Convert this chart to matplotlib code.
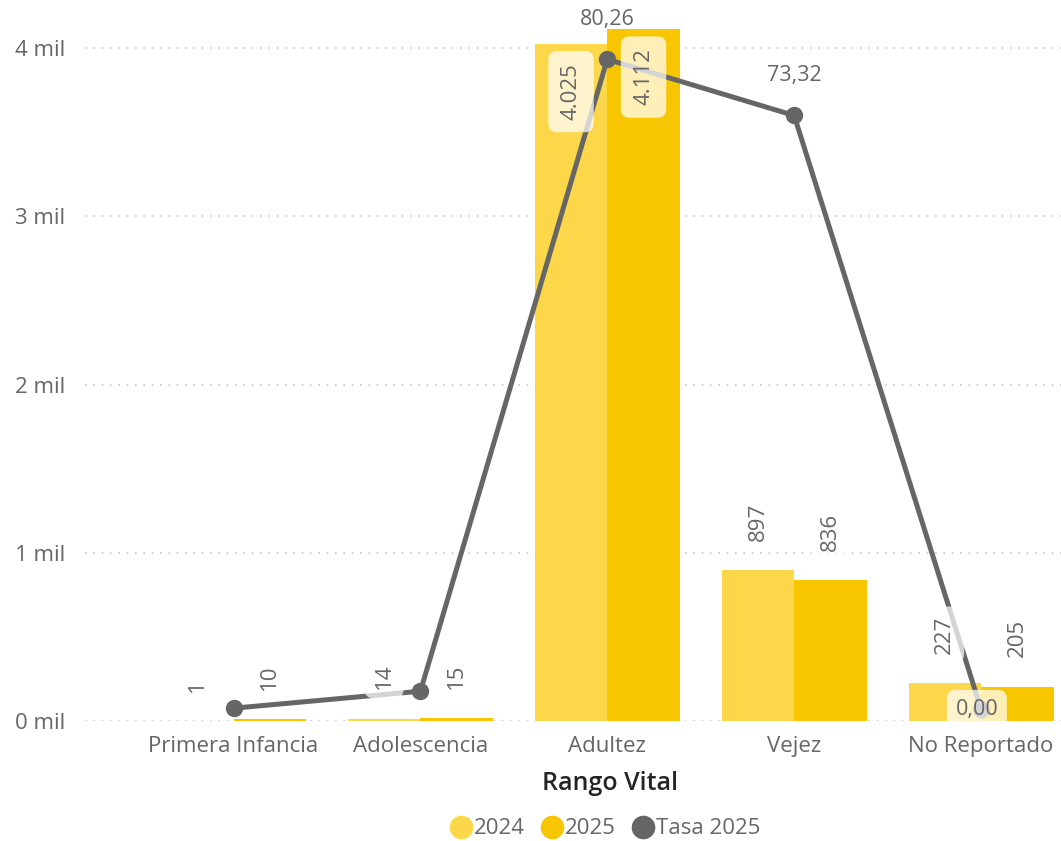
import matplotlib.pyplot as plt
from matplotlib.lines import Line2D
import numpy as np

plt.rcParams['font.family'] = ['Open Sans', 'DejaVu Sans']

# data
categories = ['Primera Infancia', 'Adolescencia', 'Adultez', 'Vejez', 'No Reportado']
casos_2024 = [1, 14, 4025, 897, 227]
casos_2025 = [10, 15, 4112, 836, 205]
tasa_2025 = [0.1, 2.2, 80.26, 73.32, 0.00]
show_tasa_label = [False, False, True, True, True]
yticks = [0, 1000, 2000, 3000, 4000]

c24 = '#FDD74A'
c25 = '#F8C600'
cline = '#666666'
txt = '#666666'

def fmt_int(v):
    return f'{v:,}'.replace(',', '.')

def fmt_dec(v):
    return f'{v:.2f}'.replace('.', ',')

fig = plt.figure(figsize=(10.61, 8.41), dpi=100)
ax = fig.add_axes([85 / 1061, 120 / 841, 976 / 1061, 711 / 841])

x = np.arange(len(categories))
w = 0.388
bars24 = ax.bar(x - w / 2, casos_2024, w, color=c24, zorder=2)
bars25 = ax.bar(x + w / 2, casos_2025, w, color=c25, zorder=2)

ax.set_xlim(-0.795, 4.428)
ax.set_ylim(0, 4226)
ax.set_yticks(yticks)
ax.set_yticklabels([f'{int(t / 1000)} mil' for t in yticks])
ax.set_xticks(x)
ax.set_xticklabels(categories)
ax.tick_params(axis='y', length=0, pad=14, labelsize=16, labelcolor=txt)
ax.tick_params(axis='x', length=0, pad=11, labelsize=16, labelcolor=txt)
ax.grid(axis='y', linestyle=(0, (1, 4)), color='#C8C8C8', linewidth=1.2, zorder=0)
for s in ax.spines.values():
    s.set_visible(False)

# secondary axis for the rate line
ax2 = ax.twinx()
ax2.set_ylim(-1.48, 86.35)
ax2.axis('off')
ax2.plot(x, tasa_2025, color=cline, linewidth=3.6, marker='o', markersize=11.5, zorder=3)

box = dict(boxstyle='round,pad=0.4,rounding_size=0.4', facecolor='white',
           edgecolor='none', alpha=0.72)
box_in = dict(boxstyle='round,pad=0.55,rounding_size=0.4', facecolor='white',
              edgecolor='none', alpha=0.72)

# bar labels (drawn on ax2 so they sit above the line)
for bars, vals in [(bars24, casos_2024), (bars25, casos_2025)]:
    for b, v in zip(bars, vals):
        xc = b.get_x() + b.get_width() / 2
        yv = v / 4226 * 87.83 - 1.48
        if v > 3000:
            ax2.annotate(fmt_int(v), (xc, yv), xytext=(0, -14), textcoords='offset points',
                         rotation=90, ha='center', va='top', fontsize=16, color=txt,
                         bbox=box_in, zorder=5)
        else:
            ax2.annotate(fmt_int(v), (xc, yv), xytext=(0, 21), textcoords='offset points',
                         rotation=90, ha='center', va='bottom', fontsize=16, color=txt,
                         bbox=box, zorder=5)

for xi, t, show in zip(x, tasa_2025, show_tasa_label):
    if not show:
        continue
    if t < 1:
        ax2.annotate(fmt_dec(t), (xi, t), xytext=(-3, 0), textcoords='offset points',
                     ha='center', va='center', fontsize=15.5, color=txt, bbox=box, zorder=5)
    else:
        ax2.annotate(fmt_dec(t), (xi, t), xytext=(0, 29), textcoords='offset points',
                     ha='center', va='center', fontsize=15.5, color=txt, zorder=5)

fig.text(610 / 1061, 1 - 784 / 841, 'Rango Vital', ha='center', va='center',
         fontsize=18, fontweight='semibold', color='#252423')

handles = [Line2D([], [], linestyle='none', marker='o', markersize=16, color=c24),
           Line2D([], [], linestyle='none', marker='o', markersize=16, color=c25),
           Line2D([], [], linestyle='none', marker='o', markersize=16, color=cline)]
leg = fig.legend(handles, ['2024', '2025', 'Tasa 2025'], loc='center',
                 bbox_to_anchor=(604 / 1061, 1 - 829 / 841), ncol=3, frameon=False,
                 fontsize=16, handletextpad=0.0, columnspacing=0.6, handlelength=1.2)
for t in leg.get_texts():
    t.set_color(txt)

fig.savefig('out.png', dpi=100)
